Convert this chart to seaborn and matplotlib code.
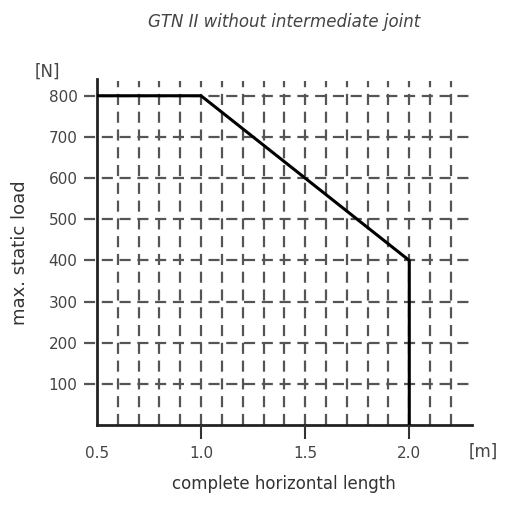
import numpy as np
import pandas as pd
import matplotlib
matplotlib.use("Agg")
import matplotlib.pyplot as plt
import seaborn as sns

# data
lengths = [0.5, 1.0, 2.0, 2.0]
loads = [800, 800, 400, 0]
x_ticks = [0.5, 1.0, 1.5, 2.0]
y_ticks = [100, 200, 300, 400, 500, 600, 700, 800]
x_grid = [round(0.6 + 0.1 * i, 1) for i in range(17)]

sns.set_style("white")
plt.rcParams['font.family'] = ['DejaVu Sans']

fig = plt.figure(figsize=(5.1, 5.05), dpi=100)
ax = fig.add_axes([0.19, 0.158, 0.735, 0.685])

grid_col = "#555555"
# vertical dashed grid
ax.vlines(x_grid, 0, 835, colors=grid_col, linestyles=(0, (5, 3)), linewidth=1.6, zorder=1)
# horizontal dashed grid, sticking out left of the spine
ax.hlines(y_ticks, -0.035, 1.0, colors=grid_col, linestyles=(0, (5, 3)), linewidth=1.6,
          transform=ax.get_yaxis_transform(), clip_on=False, zorder=1)

df = pd.DataFrame({"length": lengths, "load": loads})
sns.lineplot(data=df, x="length", y="load", sort=False, estimator=None,
             color="black", linewidth=2.2, ax=ax, zorder=3)

# x tick marks below the axis drawn as tick-down markers
ax.plot(x_ticks[1:], [0] * 3, linestyle="none", marker=3, markersize=10,
        markeredgewidth=1.5, color="#333333", clip_on=False, zorder=6)

ax.set_xlim(0.5, 2.3)
ax.set_ylim(0, 840)
ax.set_xticks(x_ticks)
ax.set_xticklabels(["0.5", "1.0", "1.5", "2.0"], color="#444444", fontsize=11)
ax.set_yticks(y_ticks)
ax.set_yticklabels([str(v) for v in y_ticks], color="#444444", fontsize=11)
ax.tick_params(axis="y", length=0, pad=14)
ax.tick_params(axis="x", length=0, pad=15)

for s in ["top", "right"]:
    ax.spines[s].set_visible(False)
for s in ["left", "bottom"]:
    ax.spines[s].set_color("#222222")
    ax.spines[s].set_linewidth(2)

ax.set_xlabel("complete horizontal length", fontsize=12, color="#333333", labelpad=10)
ax.set_ylabel("max. static load", fontsize=13, color="#333333", labelpad=14)
ax.set_title("GTN II without intermediate joint", fontsize=12, style="italic",
             color="#444444", pad=38)

fig.text(0.068, 0.848, "[N]", fontsize=12, color="#444444")
fig.text(0.918, 0.095, "[m]", fontsize=12, color="#444444")

fig.savefig("out.png", dpi=100)
